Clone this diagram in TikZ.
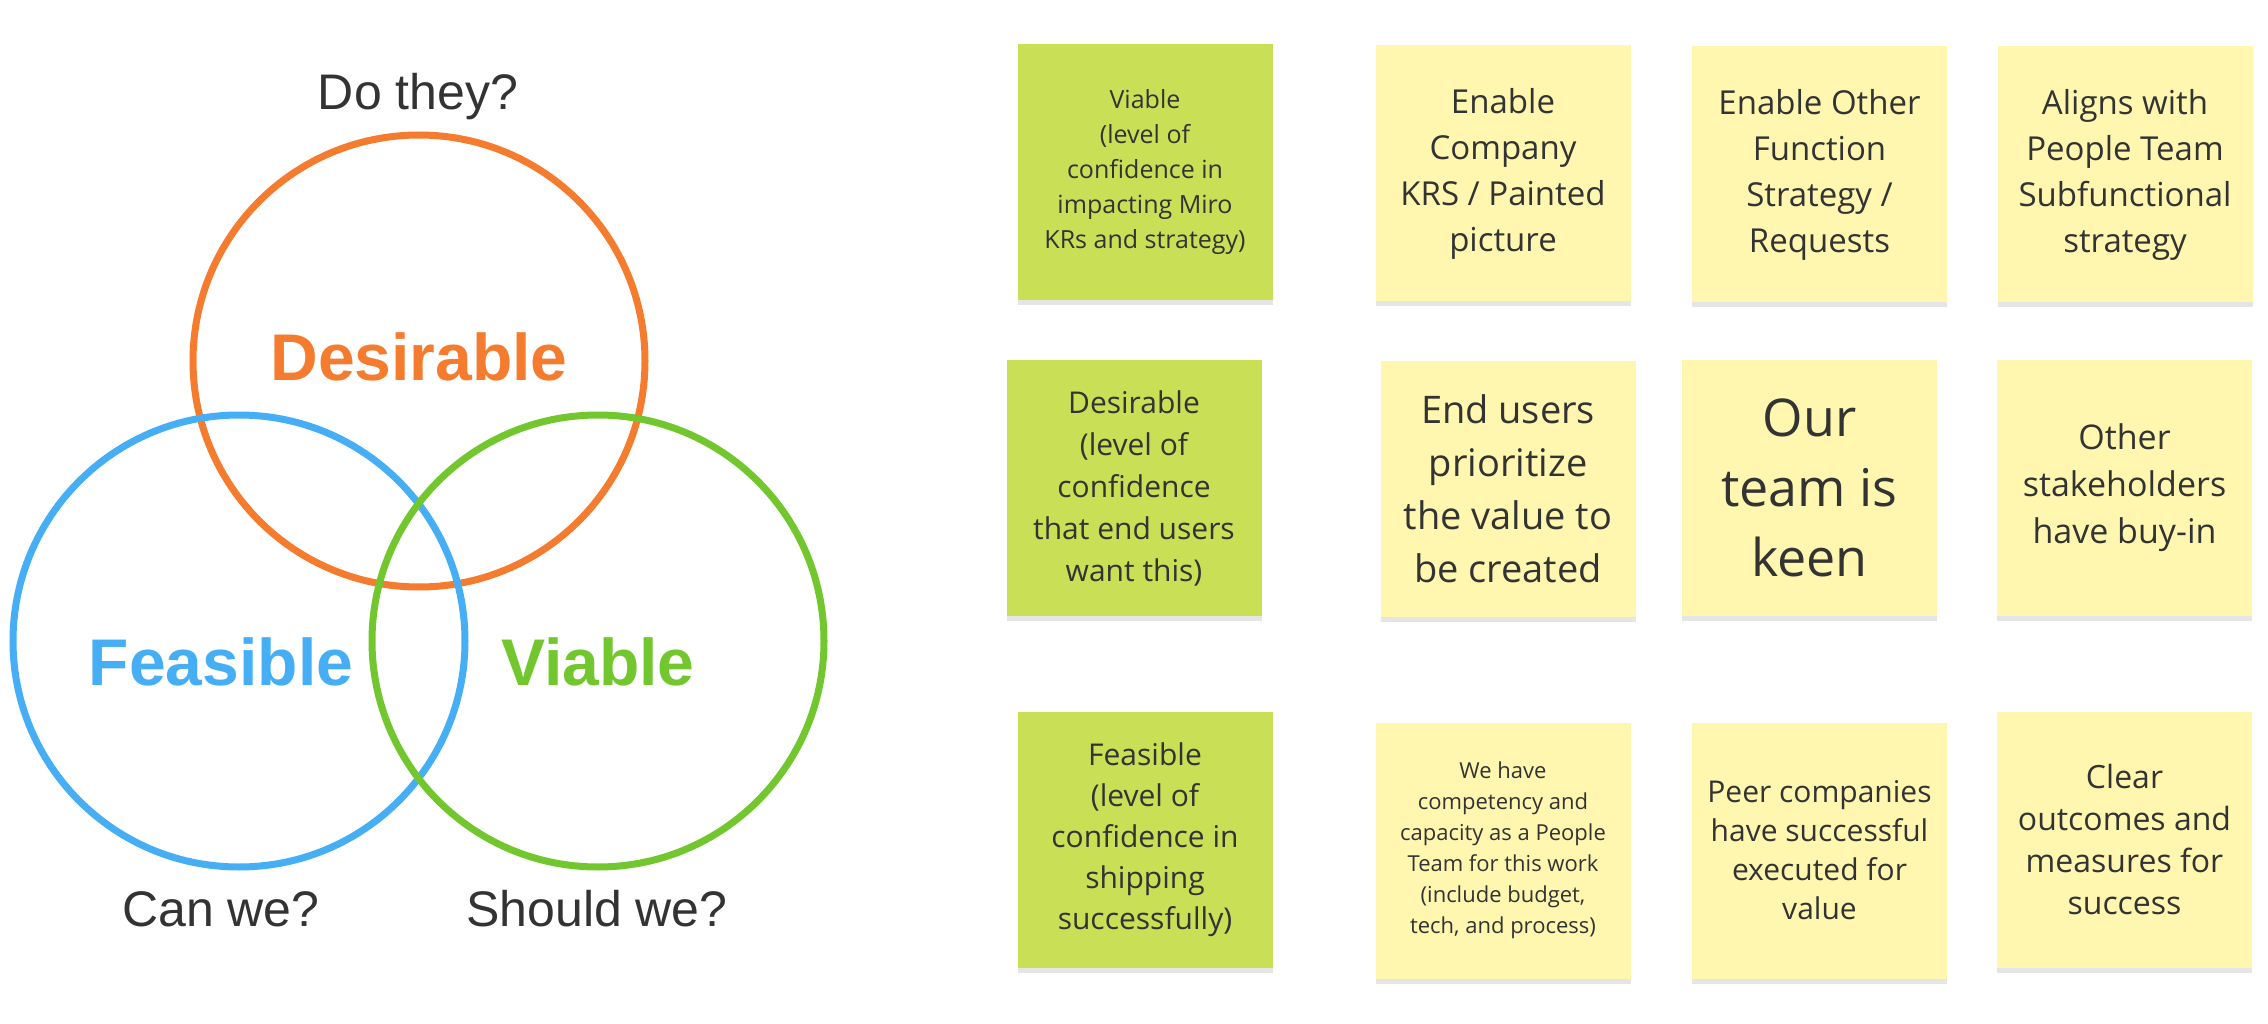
\documentclass[tikz,border=0pt]{standalone}
\usepackage{fontspec}
\setmainfont{Open Sans}
\newfontfamily\vennfont{Liberation Sans}
\usetikzlibrary{shadows}
\definecolor{cOrange}{RGB}{245,124,46}
\definecolor{cBlue}{RGB}{69,174,245}
\definecolor{cGreen}{RGB}{114,198,46}
\definecolor{stGreen}{RGB}{201,223,86}
\definecolor{stYellow}{RGB}{255,247,175}
\definecolor{txtGray}{RGB}{51,51,51}
\newcommand{\fs}[2]{\fontsize{#1}{#2}\selectfont}
\begin{document}
\begin{tikzpicture}[x=1pt,y=-1pt,
  venncircle/.style={line width=7pt},
  question/.style={text=txtGray, font=\vennfont\fs{50}{60}, inner sep=0pt},
  biglabel/.style={font=\vennfont\bfseries\fs{66}{76}, inner sep=0pt},
  sticky/.style={rectangle, draw=none, text=txtGray, align=center, inner sep=0pt,
    minimum width=255pt, minimum height=256pt,
    drop shadow={shadow xshift=0pt, shadow yshift=-5pt, fill=black, opacity=0.10}},
  gnote/.style={sticky, fill=stGreen},
  ynote/.style={sticky, fill=stYellow}]
\fill[white] (0,0) rectangle (2268,1024);
\useasboundingbox (0,0) rectangle (2268,1024);
% Venn diagram
\draw[venncircle, cOrange] (419,361) circle (226);
\draw[venncircle, cBlue] (239,641) circle (226);
\draw[venncircle, cGreen] (598,641) circle (226);
\node[question] (dothey) at (418,97) {Do they?};
\node[question] (canwe) at (221,909) {Can we?};
\node[question] (shouldwe) at (597,909) {Should we?};
\node[biglabel, text=cOrange] (desirable) at (419,357) {Desirable};
\node[biglabel, text=cBlue] (feasible) at (221,662) {Feasible};
\node[biglabel, text=cGreen] (viable) at (598,662) {Viable};
% Row 1
\node[gnote, font=\fs{25}{35}] (g1) at (1145,172.5) {Viable\\(level of\\confidence in\\impacting Miro\\KRs and strategy)};
\node[ynote, font=\fs{33}{46}] (y11) at (1503,173.5) {Enable\\Company\\KRS / Painted\\picture};
\node[ynote, font=\fs{33}{46}] (y12) at (1819.5,174.5) {Enable Other\\Function\\Strategy /\\Requests};
\node[ynote, font=\fs{33}{46}] (y13) at (2125,174.5) {Aligns with\\People Team\\Subfunctional\\strategy};
% Row 2
\node[gnote, font=\fs{30}{42}] (g2) at (1134,488) {Desirable\\(level of\\confidence\\that end users\\want this)};
\node[ynote, font=\fs{38}{53}] (y21) at (1508,489) {End users\\prioritize\\the value to\\be created};
\node[ynote, font=\fs{52}{70}] (y22) at (1809.5,488) {Our\\team is\\keen};
\node[ynote, font=\fs{34}{47}] (y23) at (2124.5,488) {Other\\stakeholders\\have buy-in};
% Row 3
\node[gnote, font=\fs{30}{41}] (g3) at (1145,839.5) {Feasible\\(level of\\confidence in\\shipping\\successfully)};
\node[ynote, font=\fs{22}{31}] (y31) at (1503,850.5) {We have\\competency and\\capacity as a People\\Team for this work\\(include budget,\\tech, and process)};
\node[ynote, font=\fs{30}{39}] (y32) at (1819.5,850.5) {Peer companies\\have successful\\executed for\\value};
\node[ynote, font=\fs{32}{42}] (y33) at (2124.5,839.5) {Clear\\outcomes and\\measures for\\success};
\end{tikzpicture}
\end{document}
